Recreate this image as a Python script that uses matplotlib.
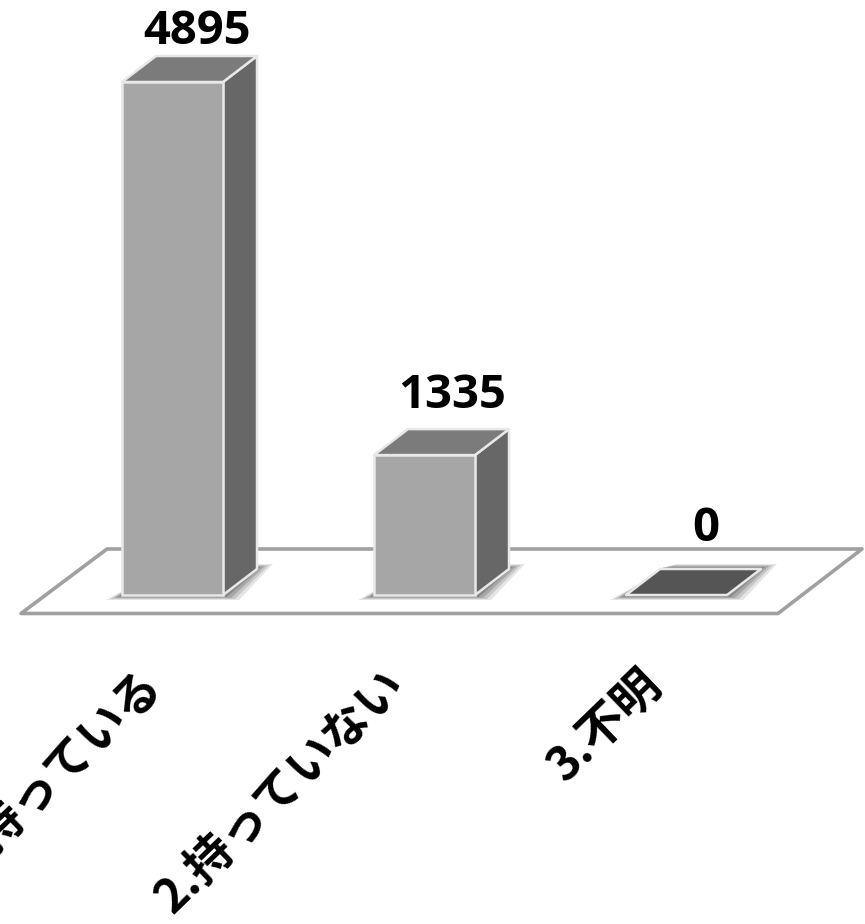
import matplotlib
matplotlib.use("Agg")
import matplotlib.pyplot as plt
from matplotlib.patches import Polygon

categories = ["1.持っている", "2.持っていない", "3.不明"]
values = [4895, 1335, 0]

# pixels per category / per unit
px_per_cat = 252.0
px_per_val = 513.0 / 4895
first_x = 172.5
base_y = 595.0
W, H = 865, 924

dx = 34 / px_per_cat
dy = 26 / px_per_val
half = 50.5 / px_per_cat
fx = 1 / px_per_cat
fy = 1 / px_per_val

# gap between bar top and label baseline, px
label_gaps = [38, 47, 54]
label_shift = [24, 28, 29]
name_shift = [-19, -27, -21]

edge = "#e8e8e8"

fig = plt.figure(figsize=(W / 100, H / 100), dpi=100)
ax = fig.add_axes([0, 0, 1, 1])
ax.set_xlim(-first_x / px_per_cat, (W - first_x) / px_per_cat)
ax.set_ylim((base_y - H) / px_per_val, base_y / px_per_val)
ax.axis("off")

# floor
floor = [(-151.5 * fx, -18.5 * fy), (-65.5 * fx, 46 * fy), (689.5 * fx, 46 * fy), (605.5 * fx, -18.5 * fy)]
ax.add_patch(Polygon(floor, closed=True, fc="white", ec="#a0a0a0", lw=2.6, joinstyle="round", zorder=1))

for i, v in enumerate(values):
    l, r = i - half, i + half

    # soft shadow on the floor, wider sideways than up and down
    for k, a in zip([16, 12, 8, 4], [0.16, 0.22, 0.3, 0.4]):
        e = k * fx
        t = (k / 4 + 1) * fy
        shadow = [(l - e, -t), (r + e, -t), (r + dx + e, dy + t), (l + dx + e, dy + t)]
        ax.add_patch(Polygon(shadow, closed=True, fc="#606060", ec="none", alpha=a, zorder=2))

    if v > 0:
        ax.bar(i, v, width=2 * half, color="#a6a6a6", edgecolor=edge, linewidth=1.8, zorder=5)
        side = [(r, 0), (r + dx, dy), (r + dx, v + dy), (r, v)]
        top = [(l, v), (r, v), (r + dx, v + dy), (l + dx, v + dy)]
        ax.add_patch(Polygon(side, closed=True, fc="#676767", ec=edge, lw=1.8, joinstyle="round", zorder=4))
        ax.add_patch(Polygon(top, closed=True, fc="#7b7b7b", ec=edge, lw=1.8, joinstyle="round", zorder=4))
    else:
        base = [(l, 0), (r, 0), (r + dx, dy), (l + dx, dy)]
        ax.add_patch(Polygon(base, closed=True, fc="#555555", ec=edge, lw=1.8, joinstyle="round", zorder=5))

    ax.text(i + label_shift[i] * fx, v + label_gaps[i] * fy, str(v), ha="center", va="baseline",
            fontsize=34, fontweight="bold", family=["Open Sans", "DejaVu Sans"], color="black", zorder=6)

    ax.text(i + name_shift[i] * fx, -790, categories[i], rotation=44, rotation_mode="anchor", ha="right", va="center",
            fontsize=34, fontweight="bold", family=["Noto Sans CJK JP", "DejaVu Sans"], color="black", zorder=6)

fig.savefig("out.png", dpi=100, facecolor="white")
